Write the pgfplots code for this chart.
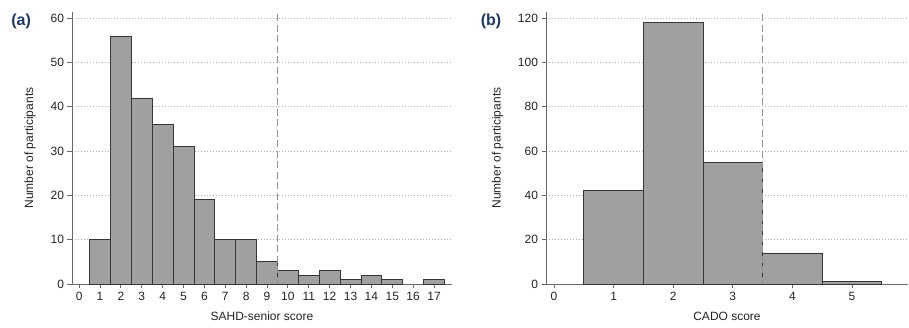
\documentclass[border=0pt]{standalone}
\usepackage{fontspec}
\setmainfont{Liberation Sans}
\usepackage{pgfplots}
\pgfplotsset{compat=1.18}
\definecolor{barfill}{RGB}{160,160,160}
\definecolor{baredge}{RGB}{55,55,55}
\definecolor{axisgray}{RGB}{105,105,105}
\definecolor{gridgray}{RGB}{175,175,175}
\definecolor{dashgray}{RGB}{145,145,145}
\definecolor{panelblue}{RGB}{31,56,100}
\definecolor{textgray}{RGB}{35,35,35}
\tikzset{panellab/.style={font=\bfseries\fontsize{16}{19}\selectfont, text=panelblue, anchor=center}}
\pgfplotsset{
  histstyle/.style={
    scale only axis, clip=false,
    axis x line*=bottom, axis y line*=left,
    axis line style={axisgray, line width=0.9pt},
    tick align=outside, tick style={axisgray, line width=0.9pt}, major tick length=4.5pt,
    ymajorgrids, grid style={gridgray, dash pattern=on 1pt off 2pt, line width=0.9pt},
    ymin=0,
    /pgf/number format/assume math mode=true,
    tick label style={font=\fontsize{12}{14}\selectfont, text=textgray},
    label style={font=\fontsize{12}{14}\selectfont, text=textgray},
    ylabel={Number of participants},
    height=272pt,
  },
  barstyle/.style={ybar, bar width=1, fill=barfill, draw=baredge, line width=0.8pt},
  cutstyle/.style={dashgray, dash pattern=on 7pt off 3.5pt, line width=1.3pt},
}
\begin{document}
\begin{tikzpicture}
\path[use as bounding box] (-72pt,-44pt) rectangle (837pt,284pt);
\begin{axis}[histstyle,
  width=380pt,
  xmin=-0.34, xmax=17.86, ymax=61.4,
  xtick={0,1,...,17}, ytick={0,10,...,60},
  xlabel={SAHD-senior score},
  ylabel style={at={(axis description cs:-0.1105,0.5)}, anchor=center},
  xlabel style={at={(axis description cs:0.5,-0.1176)}, anchor=center},
]
\addplot[barstyle] coordinates {
(1,10) (2,56) (3,42) (4,36) (5,31) (6,19) (7,10) (8,10) (9,5)
(10,3) (11,2) (12,3) (13,1) (14,2) (15,1) (17,1)};
\addplot[cutstyle] coordinates {(9.5,0) (9.5,61.4)};
\node[panellab] at (rel axis cs:-0.134,0.967) {(a)};
\end{axis}
\begin{axis}[histstyle, at={(474pt,0pt)},
  width=362pt,
  xmin=-0.134, xmax=5.94, ymax=122.7,
  xtick={0,1,...,5}, ytick={0,20,...,120},
  xlabel={CADO score},
  ylabel style={at={(axis description cs:-0.134,0.5)}, anchor=center},
  xlabel style={at={(axis description cs:0.5,-0.1176)}, anchor=center},
]
\addplot[barstyle] coordinates {(1,42) (2,118) (3,55) (4,14) (5,1)};
\addplot[cutstyle] coordinates {(3.5,0) (3.5,122.7)};
\node[panellab] at (rel axis cs:-0.152,0.967) {(b)};
\end{axis}
\end{tikzpicture}
\end{document}
